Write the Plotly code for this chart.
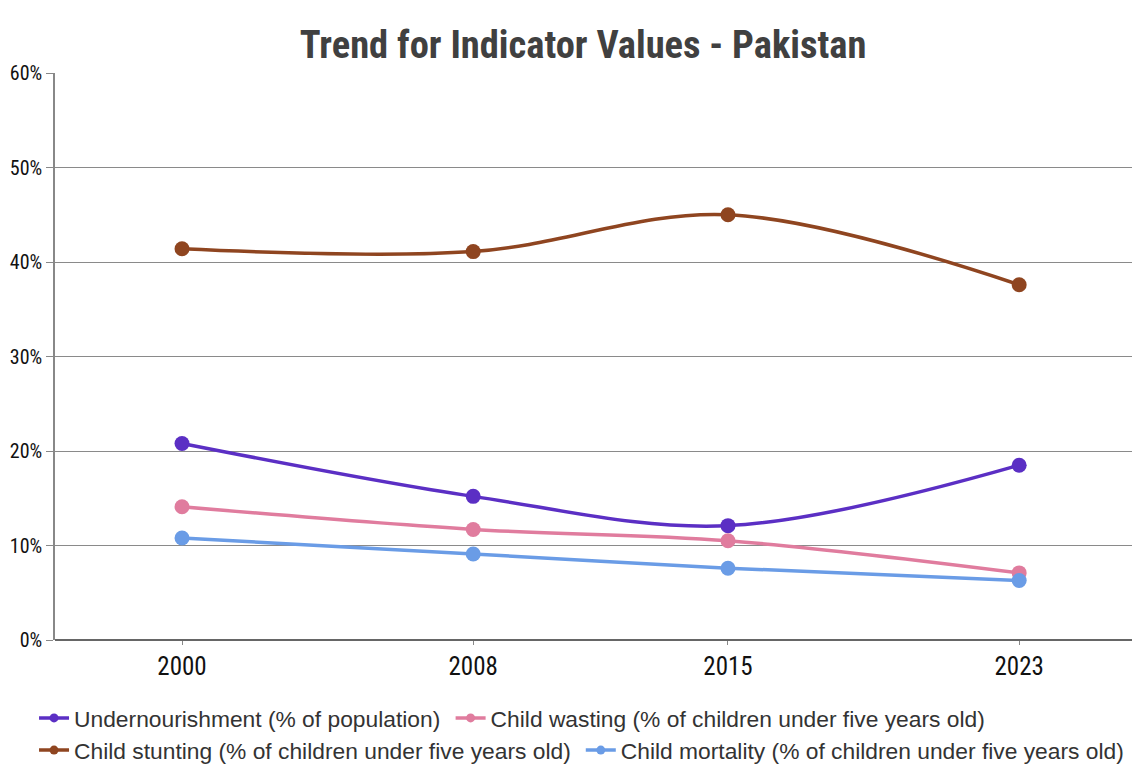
import plotly.graph_objects as go

years = [2000, 2008, 2015, 2023]
undernourishment = [20.8, 15.2, 12.1, 18.5]
child_wasting = [14.1, 11.7, 10.5, 7.1]
child_stunting = [41.4, 41.1, 45.0, 37.6]
child_mortality = [10.8, 9.1, 7.6, 6.3]

series_names = [
    "Undernourishment (% of population)",
    "Child wasting (% of children under five years old)",
    "Child stunting (% of children under five years old)",
    "Child mortality (% of children under five years old)",
]
series_values = [undernourishment, child_wasting, child_stunting, child_mortality]
colors = ["#5b2fc4", "#e07c9e", "#8f4520", "#6a9ce6"]
legend_ids = ["legend", "legend2", "legend3", "legend4"]
tick_labels = ["0%", "10%", "20%", "30%", "40%", "50%", "60%"]

NARROW = "Liberation Sans Narrow, Arial Narrow, Roboto Condensed, Liberation Sans, sans-serif"
REG = "Liberation Sans, Arial, Helvetica, sans-serif"

fig = go.Figure()
for name, vals, c in zip(series_names, series_values, colors):
    fig.add_trace(go.Scatter(
        x=years, y=vals, name=name, mode="lines+markers", showlegend=False,
        line=dict(color=c, width=3.5, shape="spline", smoothing=1.0),
        marker=dict(color=c, size=15),
    ))
# legend entries (smaller symbols, as in the reference)
for name, c, lg in zip(series_names, colors, legend_ids):
    fig.add_trace(go.Scatter(
        x=[None], y=[None], name=name, mode="lines+markers", legend=lg,
        line=dict(color=c, width=3.5), marker=dict(color=c, size=9),
    ))

W, H = 1132, 764
legend_common = dict(orientation="h", xref="container", yref="container",
                     xanchor="left", yanchor="top",
                     font=dict(family=REG, size=22.8, color="#333"),
                     itemwidth=30, bgcolor="rgba(0,0,0,0)")
row1_y = 0.0987 - 8 / H
row2_y = 0.0566 - 8 / H

fig.update_layout(
    width=W, height=H,
    paper_bgcolor="white", plot_bgcolor="white",
    margin=dict(l=55, r=0, t=73, b=124, autoexpand=False),
    title=dict(text="<b>Trend for Indicator Values - Pakistan</b>", x=0.508 + 8 / W, xanchor="center",
               xref="container", yref="container", y=0.952 - 8 / H, yanchor="middle",
               font=dict(family=NARROW, size=38.5, color="#404040")),
    font=dict(family=NARROW, color="#222"),
    showlegend=True,
    legend=dict(legend_common, x=0.023 + 8 / W, y=row1_y),
    legend2=dict(legend_common, x=0.391 + 8 / W, y=row1_y),
    legend3=dict(legend_common, x=0.023 + 8 / W, y=row2_y),
    legend4=dict(legend_common, x=0.506 + 8 / W, y=row2_y),
    xaxis=dict(range=[1996.51, 2026.1], tickmode="array", tickvals=years,
               ticktext=[str(y) for y in years], showgrid=False, zeroline=False,
               showline=False, ticks="outside", ticklen=4, tickcolor="#888",
               automargin=False, tickfont=dict(family=NARROW, size=25, color="#111")),
    yaxis=dict(range=[0, 60], tickmode="array", tickvals=[0, 10, 20, 30, 40, 50, 60],
               ticktext=tick_labels, showgrid=True, gridcolor="#8a8a8a", gridwidth=1,
               zeroline=True, zerolinecolor="#666", zerolinewidth=1.5,
               showline=True, linecolor="#888", linewidth=1.5, automargin=False,
               ticks="outside", ticklen=7, tickcolor="#888",
               tickfont=dict(family=NARROW, size=20, color="#111")),
)

fig.write_html(
    "out.html",
    config={"displayModeBar": False},
    post_script="document.documentElement.style.overflow='hidden';"
                "document.body.style.overflow='hidden';"
                "document.body.style.margin='0';",
)
